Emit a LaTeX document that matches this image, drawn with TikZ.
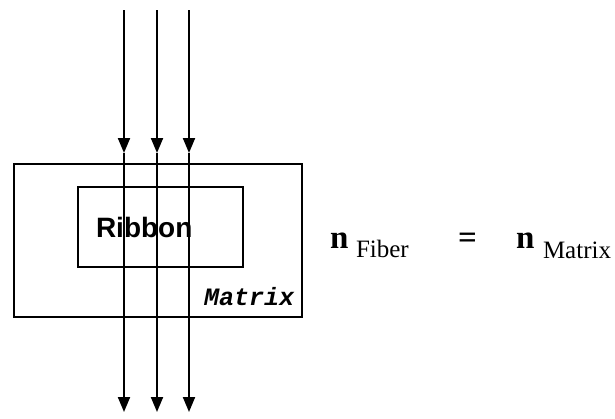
\documentclass[tikz,border=0pt]{standalone}
\usepackage{fontspec}
\setmainfont{Liberation Serif}
\newfontfamily\ribbonfont{Liberation Sans}
\newfontfamily\matrixfont{Liberation Mono}
\usetikzlibrary{arrows.meta}
\tikzset{
  lbl/.style={anchor=base west, inner sep=0pt},
  nsym/.style={lbl, font=\bfseries\fontsize{33}{35}\selectfont},
  nsub/.style={lbl, font=\fontsize{25}{27}\selectfont}
}
\begin{document}
\begin{tikzpicture}[x=1pt, y=-1pt, >={Triangle[length=15pt,width=12pt]}, line width=2pt]
  \useasboundingbox (0,0) rectangle (615,418);
  % 外框与内框
  \draw (14,164) rectangle (302,317);
  \draw (78,187) rectangle (243,267);
  \node[lbl] (ribbon) at (95,237) {\ribbonfont\bfseries\fontsize{28}{30}\selectfont Ribbon};
  \node[lbl] (matrix) at (203,305) {\matrixfont\bfseries\itshape\fontsize{25}{27}\selectfont Matrix};

  % 光线
  \foreach \i/\xx in {1/124, 2/157, 3/189} {
    \coordinate (top\i) at (\xx,10);
    \coordinate (mid\i) at (\xx,153);
    \coordinate (bot\i) at (\xx,412);
    \draw[->] (top\i) -- (mid\i);
    \draw[->] (mid\i) -- (bot\i);
  }

  % 折射率相等
  \node[nsym] (nfib) at (329,248) {n};
  \node[nsub] (fib) at (355,257) {Fiber};
  \node[nsym] (eq) at (457,248) {=};
  \node[nsym] (nmat) at (515,248) {n};
  \node[nsub] (mat) at (542,258) {Matrix};
\end{tikzpicture}
\end{document}
